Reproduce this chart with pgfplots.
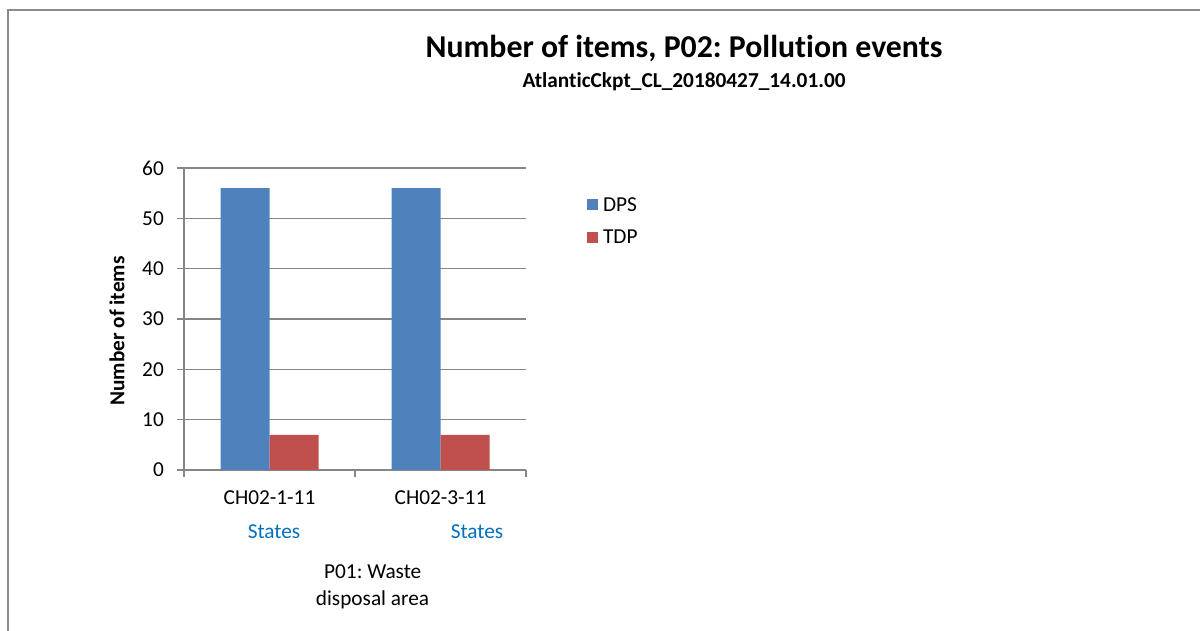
\documentclass[border=0pt]{standalone}
\usepackage{pgfplots}
\pgfplotsset{compat=1.18}
\usepackage{fontspec}
\setmainfont[Ligatures={NoCommon,NoContextual}]{Carlito}
\frenchspacing
\definecolor{dps}{HTML}{4F81BD}
\definecolor{tdp}{HTML}{C0504D}
\definecolor{axgrey}{HTML}{868686}
\definecolor{framegrey}{HTML}{8C8C8C}
\definecolor{states}{HTML}{0070C0}
\begin{document}
\begin{tikzpicture}[x=1pt,y=1pt,font=\fontsize{21.3}{25.6}\selectfont]
\path[use as bounding box] (0,0) rectangle (1200,631);
\draw[framegrey, line width=2pt] (7.7,-2) -- (7.7,621) -- (1202,621);
\node[anchor=base, font=\fontsize{31.8}{36}\selectfont\bfseries] at (684,573) {Number of items, P02: Pollut\kern0pt ion events};
\node[anchor=base, font=\fontsize{21.3}{25.6}\selectfont\bfseries] at (684,543) {Atlant\kern0pt icCkpt\_CL\_20180427\_14.01.00};
\begin{axis}[
  at={(184pt,161pt)}, anchor=south west,
  scale only axis, width=342pt, height=302pt,
  xmin=0, xmax=2, ymin=0, ymax=60,
  xtick={0,1,2}, xticklabels={,,},
  extra x ticks={0.5,1.5},
  extra x tick labels={CH02-1-11,CH02-3-11},
  extra x tick style={major tick length=0pt, xticklabel style={anchor=base, inner sep=0pt, yshift=-35pt}},
  ytick={0,10,...,60},
  tick align=outside, major tick length=7pt,
  axis x line*=bottom, axis y line*=left,
  axis line style={axgrey, line width=1.5pt, -},
  tick style={axgrey, line width=1.5pt},
  ymajorgrids, grid style={axgrey, line width=1.5pt},
  yticklabel style={inner sep=0pt, xshift=-13pt},
  /pgf/number format/assume math mode=true,
  legend image code/.code={\fill[#1] (0pt,-5.5pt) rectangle (11pt,5.5pt);},
  legend style={draw=none, fill=none, at={(1.178,0.904)}, anchor=north west, inner sep=0pt, row sep=17pt, column sep=5pt, nodes={inner sep=0pt, anchor=west}},
  legend cell align=left,
]
\addplot[ybar, bar width=49pt, bar shift=-24.5pt, fill=dps, draw=none] coordinates {(0.5,56) (1.5,56)};
\addplot[ybar, bar width=49pt, bar shift=24.5pt, fill=tdp, draw=none] coordinates {(0.5,7) (1.5,7)};
\legend{DPS,TDP}
\end{axis}
\node[rotate=90, font=\fontsize{21.3}{25.6}\selectfont\bfseries] at (117,300) {Number of items};
\node[anchor=base, text=states] at (274,92) {States};
\node[anchor=base, text=states] at (477,92) {States};
\node[anchor=base] at (372.7,52) {P01: Waste};
\node[anchor=base] at (372.5,25) {disposal area};
\end{tikzpicture}
\end{document}
